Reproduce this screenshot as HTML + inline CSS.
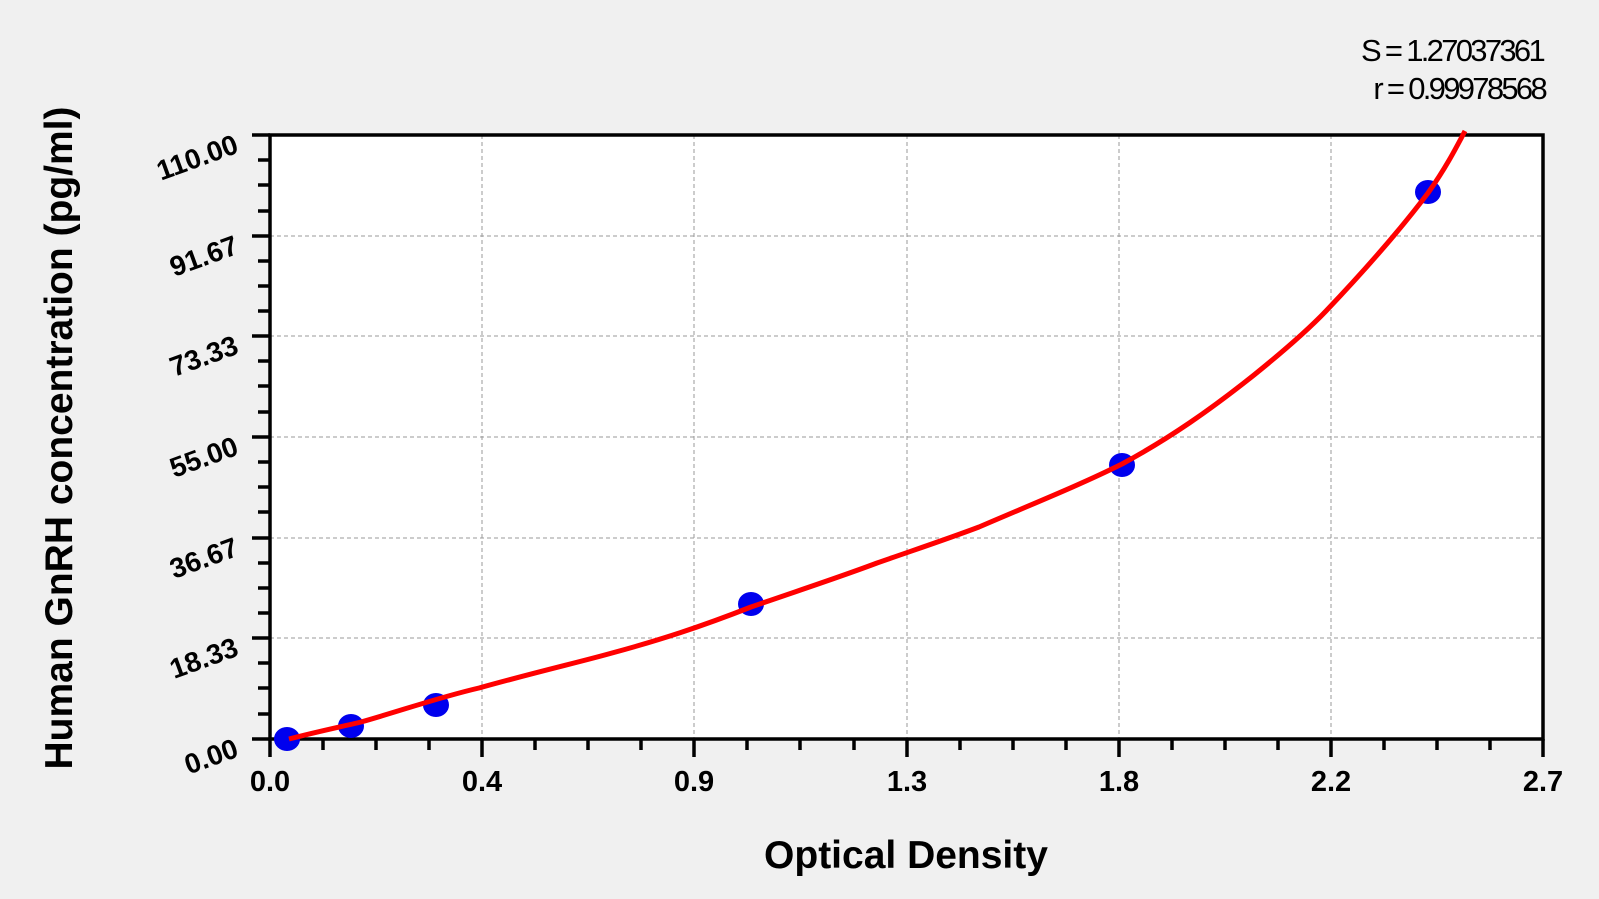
<!DOCTYPE html>
<html><head><style>
body{margin:0;background:#f0f0f0;}
svg{display:block;font-family:"Liberation Sans",Arial,sans-serif;}
</style></head><body>
<svg width="1599" height="899" viewBox="0 0 1599 899">
<rect width="1599" height="899" fill="#f0f0f0"/>
<rect x="270" y="135" width="1273" height="604" fill="#fff"/>
<g stroke="#999" stroke-width="1" stroke-dasharray="4,3">
<line x1="482" y1="135" x2="482" y2="739"/><line x1="694" y1="135" x2="694" y2="739"/>
<line x1="907" y1="135" x2="907" y2="739"/><line x1="1119" y1="135" x2="1119" y2="739"/>
<line x1="1331" y1="135" x2="1331" y2="739"/>
<line x1="270" y1="236" x2="1543" y2="236"/><line x1="270" y1="336" x2="1543" y2="336"/>
<line x1="270" y1="437" x2="1543" y2="437"/><line x1="270" y1="538" x2="1543" y2="538"/>
<line x1="270" y1="638" x2="1543" y2="638"/>
</g>
<g stroke="#000" stroke-width="3.5">
<rect x="270" y="135" width="1273" height="604" fill="none"/>
<line x1="252" y1="135" x2="270" y2="135"/><line x1="252" y1="236" x2="270" y2="236"/><line x1="252" y1="336" x2="270" y2="336"/><line x1="252" y1="437" x2="270" y2="437"/><line x1="252" y1="538" x2="270" y2="538"/><line x1="252" y1="638" x2="270" y2="638"/><line x1="252" y1="739" x2="270" y2="739"/>
<line x1="258" y1="160" x2="270" y2="160"/><line x1="258" y1="185" x2="270" y2="185"/><line x1="258" y1="211" x2="270" y2="211"/>
<line x1="258" y1="261" x2="270" y2="261"/><line x1="258" y1="286" x2="270" y2="286"/><line x1="258" y1="311" x2="270" y2="311"/>
<line x1="258" y1="361" x2="270" y2="361"/><line x1="258" y1="386" x2="270" y2="386"/><line x1="258" y1="412" x2="270" y2="412"/>
<line x1="258" y1="462" x2="270" y2="462"/><line x1="258" y1="487" x2="270" y2="487"/><line x1="258" y1="512" x2="270" y2="512"/>
<line x1="258" y1="563" x2="270" y2="563"/><line x1="258" y1="588" x2="270" y2="588"/><line x1="258" y1="613" x2="270" y2="613"/>
<line x1="258" y1="663" x2="270" y2="663"/><line x1="258" y1="688" x2="270" y2="688"/><line x1="258" y1="714" x2="270" y2="714"/>
<line x1="270" y1="739" x2="270" y2="757"/><line x1="482" y1="739" x2="482" y2="757"/><line x1="694" y1="739" x2="694" y2="757"/><line x1="907" y1="739" x2="907" y2="757"/><line x1="1119" y1="739" x2="1119" y2="757"/><line x1="1331" y1="739" x2="1331" y2="757"/><line x1="1543" y1="739" x2="1543" y2="757"/>
<line x1="323" y1="739" x2="323" y2="750"/><line x1="376" y1="739" x2="376" y2="750"/><line x1="429" y1="739" x2="429" y2="750"/>
<line x1="535" y1="739" x2="535" y2="750"/><line x1="588" y1="739" x2="588" y2="750"/><line x1="641" y1="739" x2="641" y2="750"/>
<line x1="747" y1="739" x2="747" y2="750"/><line x1="800" y1="739" x2="800" y2="750"/><line x1="854" y1="739" x2="854" y2="750"/>
<line x1="960" y1="739" x2="960" y2="750"/><line x1="1013" y1="739" x2="1013" y2="750"/><line x1="1066" y1="739" x2="1066" y2="750"/>
<line x1="1172" y1="739" x2="1172" y2="750"/><line x1="1225" y1="739" x2="1225" y2="750"/><line x1="1278" y1="739" x2="1278" y2="750"/>
<line x1="1384" y1="739" x2="1384" y2="750"/><line x1="1437" y1="739" x2="1437" y2="750"/><line x1="1490" y1="739" x2="1490" y2="750"/>
</g>
<g fill="#0000ee">
<ellipse cx="287" cy="739" rx="13" ry="12"/><ellipse cx="351" cy="726" rx="13" ry="12"/>
<ellipse cx="436" cy="705" rx="13" ry="12"/><ellipse cx="751" cy="604" rx="13" ry="12"/>
<ellipse cx="1122" cy="465" rx="13" ry="12"/><ellipse cx="1428" cy="192" rx="13" ry="12"/>
</g>
<path d="M289,739 C320,731 340,727 361,722 C400,711 440,697 479,688 C540,671 580,662 612,653 C660,640 700,627 751,607 C800,590 840,577 877,563 C920,548 950,538 979,527 C1030,505 1080,485 1122,464 C1170,438 1210,410 1254,375 C1280,354 1305,333 1326,311 C1365,270 1400,230 1428,193 C1445,169 1455,150 1465,131" fill="none" stroke="#ff0000" stroke-width="5"/>
<g font-weight="bold" font-size="28" fill="#000" text-anchor="end">
<text transform="translate(240,152) rotate(-20)">110.00</text>
<text transform="translate(240,253) rotate(-20)">91.67</text>
<text transform="translate(240,353) rotate(-20)">73.33</text>
<text transform="translate(240,454) rotate(-20)">55.00</text>
<text transform="translate(240,555) rotate(-20)">36.67</text>
<text transform="translate(240,655) rotate(-20)">18.33</text>
<text transform="translate(240,756) rotate(-20)">0.00</text>
</g>
<g font-weight="bold" font-size="29" fill="#000" text-anchor="middle">
<text x="270" y="791">0.0</text><text x="482" y="791">0.4</text><text x="694" y="791">0.9</text>
<text x="907" y="791">1.3</text><text x="1119" y="791">1.8</text><text x="1331" y="791">2.2</text><text x="1543" y="791">2.7</text>
</g>
<text x="906" y="868" font-weight="bold" font-size="39" text-anchor="middle">Optical Density</text>
<text transform="translate(72,438) rotate(-90)" font-weight="bold" font-size="39" text-anchor="middle">Human GnRH concentration (pg/ml)</text>
<g font-size="31" text-anchor="end" letter-spacing="-2.7">
<text x="1543" y="61">S = 1.27037361</text>
<text x="1545" y="99">r = 0.99978568</text>
</g>
</svg>
</body></html>
